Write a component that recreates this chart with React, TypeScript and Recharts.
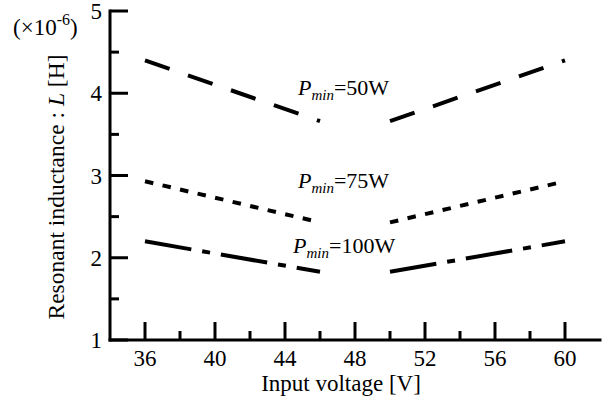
import { LineChart, Line, XAxis, YAxis, ReferenceDot, Customized } from "recharts";

// input voltage [V] at the ends of each segment
const leftVolts = [36, 46];
const rightVolts = [50, 60];

// resonant inductance (x1e-6 H)
const p50Left = [4.4, 3.66];
const p50Right = [3.66, 4.4];
const p75Left = [2.93, 2.43];
const p75Right = [2.43, 2.93];
const p100Left = [2.2, 1.83];
const p100Right = [1.83, 2.2];

const xTicks = [36, 38, 40, 42, 44, 46, 48, 50, 52, 54, 56, 58, 60];
const yTicks = [1, 1.5, 2, 2.5, 3, 3.5, 4, 4.5, 5];
const xLabels = [36, 40, 44, 48, 52, 56, 60];
const yLabels = [1, 2, 3, 4, 5];

const FONT = "Liberation Serif, Times New Roman, serif";
const txt = { fontFamily: FONT, fontSize: 23, fill: "#000" };

const toRows = (volts: number[], vals: number[]) => volts.map((v, i) => ({ v, L: vals[i] }));

const series = [
  { name: "p50", left: p50Left, right: p50Right, dash: "26 19.5" },
  { name: "p75", left: p75Left, right: p75Right, dash: "8.5 9.5" },
  { name: "p100", left: p100Left, right: p100Right, dash: "47 11 8 11" },
];

// tick mark drawn inward, label optional
const makeXTick = (dir: number, withLabel: boolean) => (props: any) => {
  const { x, y, payload } = props;
  const major = xLabels.includes(payload.value);
  const len = major ? 18 : 9;
  return (
    <g>
      <line x1={x} x2={x} y1={y} y2={y + dir * len} stroke="#000" strokeWidth={3} />
      {withLabel && major && (
        <text x={x} y={y + 18} dy="0.35em" textAnchor="middle" style={txt}>
          {payload.value}
        </text>
      )}
    </g>
  );
};

const makeYTick = (dir: number, withLabel: boolean) => (props: any) => {
  const { x, y, payload } = props;
  const major = yLabels.includes(payload.value);
  const len = major ? 18 : 9;
  return (
    <g>
      <line x1={x} x2={x + dir * len} y1={y} y2={y} stroke="#000" strokeWidth={3} />
      {withLabel && major && (
        <text x={x - 8} y={y} dy="0.35em" textAnchor="end" style={txt}>
          {payload.value}
        </text>
      )}
    </g>
  );
};

const PLabel = (text: string) => (props: any) => {
  const { cx, cy } = props;
  return (
    <text x={cx} y={cy} style={{ ...txt, fontSize: 22 }}>
      <tspan fontStyle="italic">P</tspan>
      <tspan fontStyle="italic" fontSize={15} dy={5}>min</tspan>
      <tspan dy={-5}>{text}</tspan>
    </text>
  );
};

const Titles = () => (
  <g>
    <text x={341} y={391} textAnchor="middle" style={txt}>Input voltage [V]</text>
    <text x={64} y={187} textAnchor="middle" style={{ ...txt, fontSize: 23.5 }} transform="rotate(-90 64 187)">
      Resonant inductance : <tspan fontStyle="italic">L</tspan> [H]
    </text>
    <text x={13} y={35} style={txt}>
      (×10<tspan fontSize={16} dy={-10}>-6</tspan><tspan dy={10}>)</tspan>
    </text>
  </g>
);

const axisLine = { stroke: "#000", strokeWidth: 3, strokeLinecap: "square" as const };

export default function App() {
  return (
    <div style={{ position: "absolute", left: 0, top: 0, background: "#fff" }}>
      <LineChart width={610} height={398} margin={{ top: 11, right: 10, left: 0, bottom: 0 }}>
        <XAxis
          dataKey="v"
          type="number"
          domain={[34, 62]}
          ticks={xTicks}
          interval={0}
          height={58}
          tickLine={false}
          tickSize={0}
          tickMargin={0}
          axisLine={axisLine}
          tick={makeXTick(-1, true)}
        />
        <XAxis
          xAxisId="top"
          orientation="top"
          dataKey="v"
          type="number"
          domain={[34, 62]}
          ticks={xTicks}
          interval={0}
          height={0}
          tickLine={false}
          tickSize={0}
          tickMargin={0}
          axisLine={axisLine}
          tick={makeXTick(1, false)}
        />
        <YAxis
          type="number"
          domain={[1, 5]}
          ticks={yTicks}
          interval={0}
          width={110}
          tickLine={false}
          tickSize={0}
          tickMargin={0}
          axisLine={axisLine}
          tick={makeYTick(1, true)}
        />
        <YAxis
          yAxisId="right"
          orientation="right"
          type="number"
          domain={[1, 5]}
          ticks={yTicks}
          interval={0}
          width={0}
          tickLine={false}
          tickSize={0}
          tickMargin={0}
          axisLine={axisLine}
          tick={makeYTick(-1, false)}
        />
        {series.map((s) => (
          <Line
            key={s.name + "L"}
            data={toRows(leftVolts, s.left)}
            dataKey="L"
            type="linear"
            stroke="#000"
            strokeWidth={4}
            strokeDasharray={s.dash}
            dot={false}
            activeDot={false}
            isAnimationActive={false}
          />
        ))}
        {series.map((s) => (
          <Line
            key={s.name + "R"}
            data={toRows(rightVolts, s.right)}
            dataKey="L"
            type="linear"
            stroke="#000"
            strokeWidth={4}
            strokeDasharray={s.dash}
            dot={false}
            activeDot={false}
            isAnimationActive={false}
          />
        ))}
        <ReferenceDot x={44.74} y={3.98} r={1} shape={PLabel("=50W")} />
        <ReferenceDot x={44.74} y={2.85} r={1} shape={PLabel("=75W")} />
        <ReferenceDot x={44.46} y={2.06} r={1} shape={PLabel("=100W")} />
        <Customized component={Titles} />
      </LineChart>
    </div>
  );
}
